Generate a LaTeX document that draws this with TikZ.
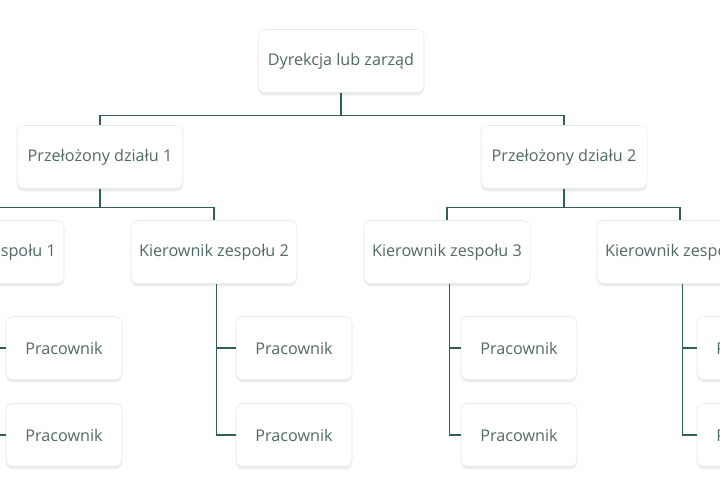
\documentclass[tikz,border=0pt]{standalone}
\usepackage{fontspec}
\setmainfont{Open Sans}
\usetikzlibrary{shadows}
\definecolor{txt}{HTML}{4F6B68}
\definecolor{wire}{HTML}{2F5E5B}
\definecolor{edge}{HTML}{E6EBE2}
\begin{document}
\begin{tikzpicture}[x=0.025cm,y=-0.025cm,
    box/.style={draw=edge,fill=white,rounded corners=5pt,text=txt,
        minimum width=4.15cm,minimum height=1.575cm,
        font=\fontsize{11.5}{14}\selectfont,
        drop shadow={shadow xshift=0pt,shadow yshift=-2pt,opacity=0.12,fill=black!60}},
    worker/.style={box,minimum width=2.9cm},
    link/.style={draw=wire,line width=0.8pt}]
    \useasboundingbox (0,0) rectangle (720,500);
    \clip (0,0) rectangle (720,500);

    \node[box] (top) at (341,61){Dyrekcja lub zarząd};
    \node[box] (p1) at (100,157){Przełożony działu 1};
    \node[box] (p2) at (564,157){Przełożony działu 2};

    \node[box] (k1) at (-19,252){Kierownik zespołu 1};
    \node[box] (k2) at (214,252){Kierownik zespołu 2};
    \node[box] (k3) at (447,252){Kierownik zespołu 3};
    \node[box] (k4) at (680,252){Kierownik zespołu 4};

    \node[worker] (w1a) at (64,348){Pracownik};
    \node[worker] (w1b) at (64,435){Pracownik};
    \node[worker] (w2a) at (294,348){Pracownik};
    \node[worker] (w2b) at (294,435){Pracownik};
    \node[worker] (w3a) at (519,348){Pracownik};
    \node[worker] (w3b) at (519,435){Pracownik};
    \node[worker] (w4a) at (755,348){Pracownik};
    \node[worker] (w4b) at (755,435){Pracownik};

    \begin{scope}[on background layer/.style={}]
    \draw[link] (top.south) -- ++(0,23) -| (p1.north);
    \draw[link] (top.south) -- ++(0,23) -| (p2.north);
    \draw[link] (p1.south) -- ++(0,19) -| (k1.north);
    \draw[link] (p1.south) -- ++(0,19) -| (k2.north);
    \draw[link] (p2.south) -- ++(0,19) -| (k3.north);
    \draw[link] (p2.south) -- ++(0,19) -| (k4.north);
    \end{scope}

    \foreach \k in {1,2,3,4}{
        \draw[link] ([xshift=2]k\k.south) |- (w\k b.west);
        \draw[link] ([xshift=2]k\k.south |- w\k a.west) -- (w\k a.west);
    }
\end{tikzpicture}
\end{document}
